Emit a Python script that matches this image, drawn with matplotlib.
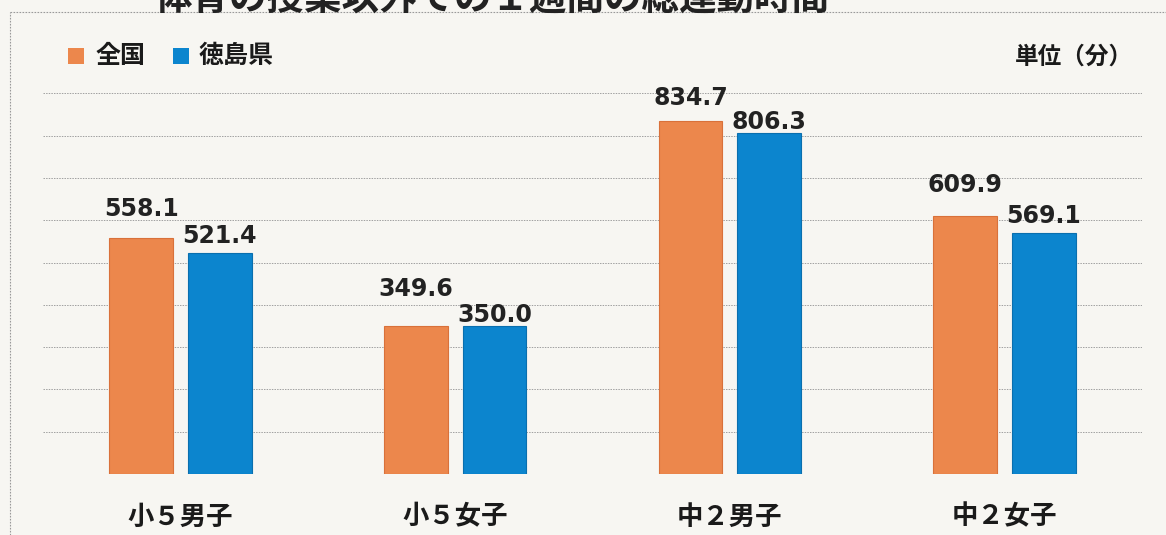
import matplotlib
matplotlib.use('Agg')
import matplotlib.pyplot as plt
from matplotlib.lines import Line2D
from matplotlib.patches import Rectangle
import numpy as np

plt.rcParams['font.family'] = ['Noto Sans CJK JP', 'DejaVu Sans']

categories = ['小５男子', '小５女子', '中２男子', '中２女子']
series_names = ['全国', '徳島県']
national = [558.1, 349.6, 834.7, 609.9]
tokushima = [521.4, 350.0, 806.3, 569.1]
unit_label = '単位（分）'
title = '体育の授業以外での１週間の総運動時間'

ORANGE = '#EC874C'
BLUE = '#0C85CE'
BG = '#F7F6F2'

W, H = 1166, 535
fig = plt.figure(figsize=(W / 100, H / 100), dpi=100, facecolor=BG)

# plot area: baseline at y=474 px, 1000 min at y=51 px
ax = fig.add_axes([43 / W, (H - 474) / H, (1142 - 43) / W, (474 - 51) / H])
ax.set_facecolor('none')
ax.set_xlim(-0.5, 3.5)
ax.set_ylim(0, 1000)
for s in ax.spines.values():
    s.set_visible(False)
ax.set_xticks([])
ax.set_yticks([])

# dotted horizontal guides every 100 min
for yv in range(0, 1000, 100):
    ax.axhline(yv, color='#a0a0a0', lw=0.7, ls=(0, (1.5, 1.2)), zorder=0)

x = np.arange(len(categories))
bw = 0.232
off = 0.143
ax.bar(x - off, national, bw, color=ORANGE, edgecolor='#d9713a', lw=0.8, zorder=2)
ax.bar(x + off, tokushima, bw, color=BLUE, edgecolor='#0a6fae', lw=0.8, zorder=2)

# value labels, lifted by hand so the pairs don't collide (points above bar top)
lift_nat = [12.5, 18, 8, 14]
lift_tok = [4, -0.5, -1, 4]
lab_kw = dict(ha='center', va='bottom', fontsize=17, fontweight='bold',
              color='#222222', family='DejaVu Sans')
for i in range(len(categories)):
    ax.annotate(f'{national[i]:.1f}', (x[i] - off, national[i]),
                xytext=(0, lift_nat[i]), textcoords='offset points', **lab_kw)
    ax.annotate(f'{tokushima[i]:.1f}', (x[i] + off, tokushima[i]),
                xytext=(0, lift_tok[i]), textcoords='offset points', **lab_kw)

# category names under each pair
for i, c in enumerate(categories):
    ax.annotate(c, (x[i], 0), xytext=(0, -31), textcoords='offset points',
                ha='center', va='center', fontsize=19, fontweight='bold',
                color='#1a1a1a')

# legend drawn as squares + labels in the top-left corner
def px(xp, yp):
    return xp / W, 1 - yp / H

for (x0, name, col, tx) in [(68, series_names[0], ORANGE, 96),
                            (173, series_names[1], BLUE, 199)]:
    fig.add_artist(Rectangle(px(x0, 64), 16 / W, 16 / H, transform=fig.transFigure,
                             facecolor=col, edgecolor='none'))
    fig.text(*px(tx, 56), name, fontsize=18, fontweight='bold',
             va='center', ha='left', color='#1a1a1a')

fig.text(*px(1133, 57), unit_label, fontsize=17, fontweight='bold',
         va='center', ha='right', color='#1a1a1a')

# page frame (dotted) and the heading that runs off the top edge
fig.add_artist(Line2D([10 / W, 1], [1 - 12 / H] * 2, transform=fig.transFigure,
                      color='#9a9a9a', lw=0.8, ls=(0, (1.5, 1.2))))
fig.add_artist(Line2D([10 / W] * 2, [0, 1 - 12 / H], transform=fig.transFigure,
                      color='#9a9a9a', lw=0.8, ls=(0, (1.5, 1.2))))
fig.text(*px(155, 18), title, fontsize=27, fontweight='bold', va='bottom',
         ha='left', color='#222222')

fig.savefig('out.png', dpi=100, facecolor=BG)
